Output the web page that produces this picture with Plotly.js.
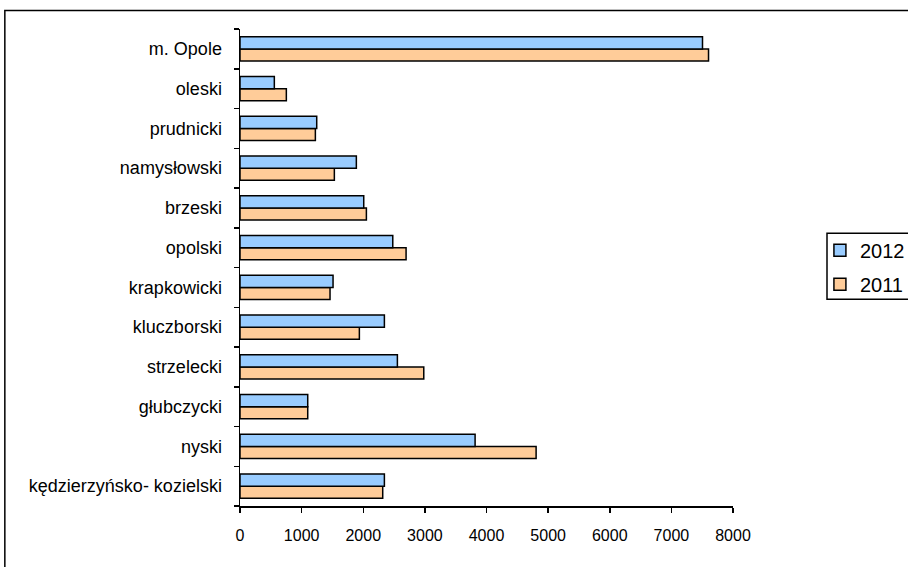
<!DOCTYPE html>
<html>
<head>
<meta charset="utf-8">
<script src="https://cdn.plot.ly/plotly-3.0.1.min.js"></script>
<style>html,body{margin:0;padding:0;background:#fff;}#chart{width:908px;height:567px;}</style>
</head>
<body>
<div id="chart"></div>
<script>
const categories = ["kędzierzyńsko- kozielski","nyski","głubczycki","strzelecki","kluczborski","krapkowicki","opolski","brzeski","namysłowski","prudnicki","oleski","m. Opole"];
const values2012 = [2343, 3815, 1099, 2554, 2343, 1510, 2479, 2008, 1888, 1245, 557, 7505];
const values2011 = [2316, 4805, 1099, 2982, 1937, 1461, 2695, 2051, 1531, 1223, 752, 7603];
const xTicks = [0,1000,2000,3000,4000,5000,6000,7000,8000];

const traces = [
  {type:'bar', orientation:'h', name:'2011', legendgroup:'b', legendrank:2, y:categories, x:values2011,
   marker:{color:'#FFCC99', line:{color:'#000', width:1.5}}},
  {type:'bar', orientation:'h', name:'2012', legendgroup:'a', legendrank:1, y:categories, x:values2012,
   marker:{color:'#99CCFF', line:{color:'#000', width:1.5}}}
];
const layout = {
  width:908, height:567,
  margin:{l:240, r:175, t:29, b:61},
  paper_bgcolor:'#fff', plot_bgcolor:'#fff',
  barmode:'group', bargap:0.39, bargroupgap:0,
  font:{family:'Liberation Sans, Arial, sans-serif', size:16, color:'#000'},
  xaxis:{range:[0,8000], tickvals:xTicks, ticktext:xTicks.map(String), showgrid:false, zeroline:false,
         showline:true, linecolor:'#000', linewidth:1.5, ticks:'outside', ticklen:5, tickcolor:'#000', tickwidth:1.5,
         ticklabelstandoff:9, tickfont:{size:16}, fixedrange:true},
  yaxis:{type:'category', categoryorder:'array', categoryarray:categories, showgrid:false, zeroline:false,
         showline:true, linecolor:'#000', linewidth:1.5, ticks:'outside', ticklen:5, tickcolor:'#000', tickwidth:1.5,
         tickson:'boundaries', ticklabelstandoff:13, tickfont:{size:18}, fixedrange:true},
  legend:{xref:'container', yref:'container', x:0.903, y:0.593, xanchor:'left', yanchor:'top',
          traceorder:'grouped', tracegroupgap:5, borderwidth:0, bgcolor:'rgba(0,0,0,0)',
          font:{family:'Liberation Sans, Arial, sans-serif', size:20}},
  shapes:[
    {type:'rect', xref:'paper', yref:'paper', x0:-0.477, x1:1.40, y0:-0.2, y1:1.039,
     line:{color:'#000', width:1.5}, fillcolor:'rgba(0,0,0,0)', layer:'below'},
    {type:'rect', xref:'paper', yref:'paper', x0:(827-240)/493, x1:1.40, y0:(505.7-299)/476.7, y1:(505.7-233)/476.7,
     line:{color:'#000', width:1.5}, fillcolor:'rgba(0,0,0,0)', layer:'below'}
  ],
  showlegend:true
};
Plotly.newPlot('chart', traces, layout, {displayModeBar:false, staticPlot:true});
</script>
</body>
</html>
